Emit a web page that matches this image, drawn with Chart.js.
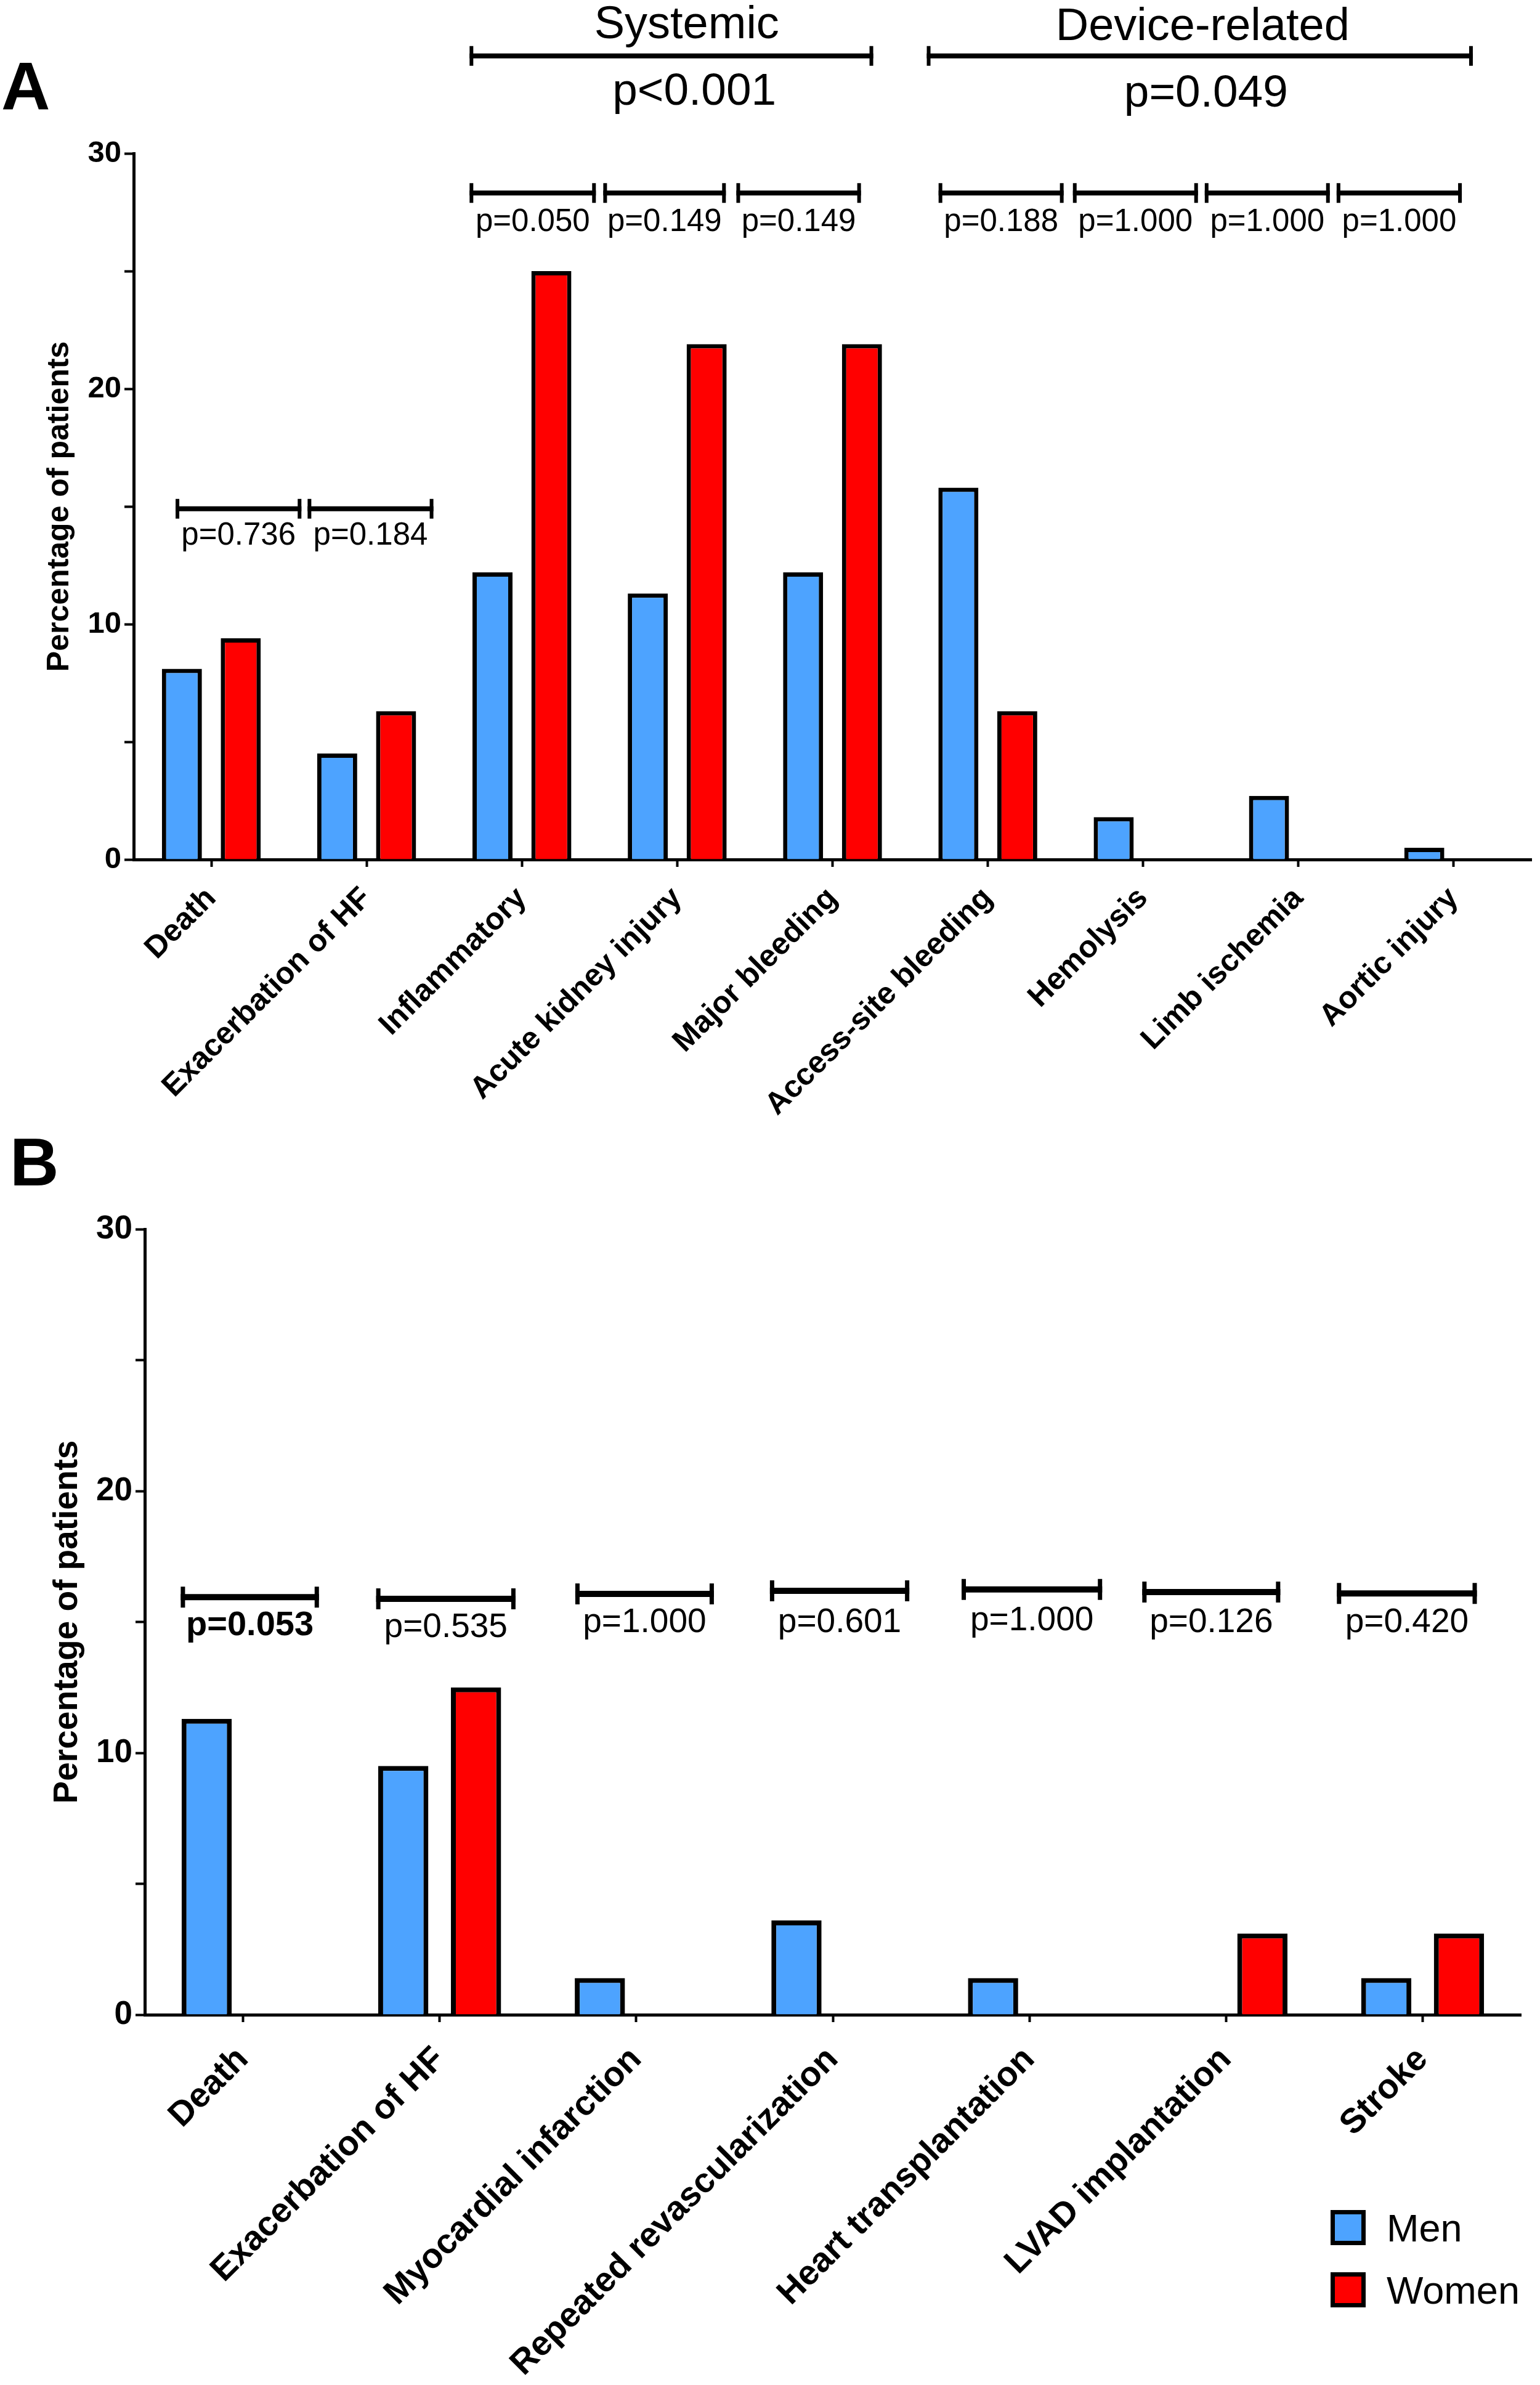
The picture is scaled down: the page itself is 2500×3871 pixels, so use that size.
<!DOCTYPE html>
<html>
<head>
<meta charset="utf-8">
<script src="https://cdn.jsdelivr.net/npm/chart.js@4.4.1/dist/chart.umd.min.js"></script>
<style>
  html, body { margin: 0; padding: 0; background: #fff; }
  #wrap { position: relative; width: 2500px; height: 3871px; }
  canvas { position: absolute; left: 0; }
  #chartA { top: 0; }
  #chartB { top: 1840px; }
</style>
</head>
<body>
<div id="wrap">
  <canvas id="chartA" width="2500" height="1840"></canvas>
  <canvas id="chartB" width="2500" height="2031"></canvas>
</div>
<script>
// ── Panel A: in-hospital complications ──
const labelsA = ['Death', 'Exacerbation of HF', 'Inflammatory', 'Acute kidney injury', 'Major bleeding',
  'Access-site bleeding', 'Hemolysis', 'Limb ischemia', 'Aortic injury'];
const menA = [8.1, 4.5, 12.2, 11.3, 12.2, 15.8, 1.8, 2.7, 0.5];
const womenA = [9.4, 6.3, 25.0, 21.9, 21.9, 6.3, 0, 0, 0];
const pairPA = ['p=0.736', 'p=0.184'];
const systemicP = ['p=0.050', 'p=0.149', 'p=0.149'];
const deviceP = ['p=0.188', 'p=1.000', 'p=1.000', 'p=1.000'];
const groupNames = ['Systemic', 'Device-related'];
const groupP = ['p<0.001', 'p=0.049'];

// ── Panel B: follow-up outcomes ──
const labelsB = ['Death', 'Exacerbation of HF', 'Myocardial infarction', 'Repeated revascularization',
  'Heart transplantation', 'LVAD implantation', 'Stroke'];
const menB = [11.3, 9.5, 1.4, 3.6, 1.4, 0, 1.4];
const womenB = [0, 12.5, 0, 0, 0, 3.1, 3.1];
const pB = ['p=0.053', 'p=0.535', 'p=1.000', 'p=0.601', 'p=1.000', 'p=0.126', 'p=0.420'];

const yLabelTicks = [0, 10, 20, 30];
const seriesNames = ['Men', 'Women'];
const seriesColors = ['#4da3ff', '#ff0000'];

const FONT = '"Liberation Sans", Arial, sans-serif';

// Bracket geometry (x in category units, y in axis units)
const segA = [
  { from: -0.23, to: 0.58, y: 14.9, textY: 13.38 },
  { from: 0.62, to: 1.43, y: 14.9, textY: 13.38 },
  { from: 1.663, to: 2.476, y: 28.32, textY: 26.7 },
  { from: 2.524, to: 3.313, y: 28.32, textY: 26.7 },
  { from: 3.381, to: 4.183, y: 28.32, textY: 26.7 },
  { from: 4.683, to: 5.488, y: 28.32, textY: 26.7 },
  { from: 5.548, to: 6.353, y: 28.32, textY: 26.7 },
  { from: 6.397, to: 7.202, y: 28.32, textY: 26.7 },
  { from: 7.246, to: 8.052, y: 28.32, textY: 26.7 }
];
const groupSegA = [
  { from: 1.663, to: 4.262, y: 34.14, nameX: 3.061, nameY: 34.9, pX: 3.11, pY: 32.07 },
  { from: 4.607, to: 8.123, y: 34.14, nameX: 6.383, nameY: 34.82, pX: 6.405, pY: 31.99 }
];
const segB = [
  { from: -0.317, to: 0.386, y: 15.95, textY: 14.49, bold: true },
  { from: 0.677, to: 1.386, y: 15.88, textY: 14.42 },
  { from: 1.69, to: 2.395, y: 16.07, textY: 14.61 },
  { from: 2.68, to: 3.389, y: 16.19, textY: 14.61 },
  { from: 3.655, to: 4.37, y: 16.24, textY: 14.68 },
  { from: 4.574, to: 5.276, y: 16.14, textY: 14.61 },
  { from: 5.564, to: 6.276, y: 16.09, textY: 14.61 }
];

// Draws one comparison bracket with end caps
function drawBracket(ctx, x0, x1, y, lw, capW, capH) {
  ctx.strokeStyle = '#000';
  ctx.lineCap = 'butt';
  ctx.lineWidth = lw;
  ctx.beginPath();
  ctx.moveTo(x0, y);
  ctx.lineTo(x1, y);
  ctx.stroke();
  ctx.lineWidth = capW;
  ctx.beginPath();
  ctx.moveTo(x0 + capW / 2, y - capH);
  ctx.lineTo(x0 + capW / 2, y + capH);
  ctx.moveTo(x1 - capW / 2, y - capH);
  ctx.lineTo(x1 - capW / 2, y + capH);
  ctx.stroke();
}

function text(ctx, str, x, y, size, bold, align) {
  ctx.fillStyle = '#000';
  ctx.font = (bold ? 'bold ' : '') + size + 'px ' + FONT;
  ctx.textAlign = align || 'center';
  ctx.textBaseline = 'alphabetic';
  ctx.fillText(str, x, y);
}

// Overlay: panel letter, brackets, p-values, legend
function makeOverlay(cfg) {
  return {
    id: 'overlay',
    afterDraw(chart) {
      const { ctx, scales: { x, y } } = chart;
      ctx.save();
      text(ctx, cfg.letter, cfg.letterX, cfg.letterY, 110, true, 'left');

      cfg.segs.forEach((s, i) => {
        const x0 = x.getPixelForValue(s.from);
        const x1 = x.getPixelForValue(s.to);
        drawBracket(ctx, x0, x1, y.getPixelForValue(s.y), cfg.lw, cfg.capW, cfg.capH);
        text(ctx, cfg.pTexts[i], (x0 + x1) / 2, y.getPixelForValue(s.textY), s.bold ? cfg.pSize + 1 : cfg.pSize, !!s.bold);
      });

      (cfg.groups || []).forEach((g, i) => {
        drawBracket(ctx, x.getPixelForValue(g.from), x.getPixelForValue(g.to), y.getPixelForValue(g.y), cfg.lw, cfg.capW, cfg.capH);
        text(ctx, groupNames[i], x.getPixelForValue(g.nameX), y.getPixelForValue(g.nameY), 74, false);
        text(ctx, groupP[i], x.getPixelForValue(g.pX), y.getPixelForValue(g.pY), 73, false);
      });

      if (cfg.legend) {
        const L = cfg.legend;
        chart.data.datasets.forEach((ds, i) => {
          const top = L.top + i * L.gap;
          ctx.fillStyle = '#000';
          ctx.fillRect(L.left, top, L.box, L.box);
          ctx.fillStyle = ds.backgroundColor;
          ctx.fillRect(L.left + 7, top + 7, L.box - 14, L.box - 14);
          text(ctx, ds.label, L.textX, top + L.box / 2 + 22, 63, false, 'left');
        });
      }
      ctx.restore();
    }
  };
}

function buildChart(id, labels, men, women, L) {
  return new Chart(document.getElementById(id), {
    type: 'bar',
    data: {
      labels: labels,
      datasets: [
        { label: seriesNames[0], data: men, backgroundColor: seriesColors[0], borderColor: '#000', borderWidth: L.barBorder },
        { label: seriesNames[1], data: women, backgroundColor: seriesColors[1], borderColor: '#000', borderWidth: L.barBorder }
      ]
    },
    options: {
      responsive: false,
      animation: false,
      devicePixelRatio: 1,
      layout: { padding: { top: L.top, right: L.right, left: 0, bottom: 0 } },
      datasets: { bar: { categoryPercentage: L.catPct, barPercentage: L.barPct } },
      plugins: { legend: { display: false }, tooltip: { enabled: false } },
      scales: {
        x: {
          offset: true,
          z: 1,
          grid: { offset: false, drawOnChartArea: false, color: '#000', tickLength: 12, tickWidth: 4 },
          border: { color: '#000', width: 5 },
          ticks: {
            color: '#000', autoSkip: false, minRotation: 45, maxRotation: 45, padding: L.xPad,
            font: { family: FONT, size: L.xFont, weight: 'bold' }
          },
          afterFit: s => { s.height = L.xHeight; }
        },
        y: {
          min: 0, max: 30,
          grid: { drawOnChartArea: false, color: '#000', tickLength: 15, tickWidth: 4 },
          border: { color: '#000', width: 5 },
          ticks: {
            stepSize: 5, padding: 5, color: '#000',
            font: { family: FONT, size: L.yFont, weight: 'bold' },
            callback: v => yLabelTicks.includes(v) ? v : ''
          },
          title: {
            display: true, text: 'Percentage of patients', color: '#000',
            font: { family: FONT, size: L.titleFont, weight: 'bold' },
            padding: { top: L.titlePad, bottom: 0 }
          },
          afterFit: s => { s.width = L.yWidth; }
        }
      }
    },
    plugins: [makeOverlay(L.overlay)]
  });
}

buildChart('chartA', labelsA, menA, womenA, {
  top: 249, right: 14, yWidth: 217, xHeight: 445,
  catPct: 0.758, barPct: 0.68, barBorder: 7,
  xFont: 50, xPad: 22, yFont: 49, titleFont: 50, titlePad: 67,
  overlay: {
    letter: 'A', letterX: 2, letterY: 177,
    segs: segA, pTexts: [...pairPA, ...systemicP, ...deviceP], pSize: 51,
    groups: groupSegA, lw: 8, capW: 6, capH: 16
  }
});

buildChart('chartB', labelsB, menB, womenB, {
  top: 155, right: 31, yWidth: 235, xHeight: 601,
  catPct: 0.74, barPct: 0.69, barBorder: 8,
  xFont: 56, xPad: 28, yFont: 53, titleFont: 55, titlePad: 77,
  overlay: {
    letter: 'B', letterX: 16, letterY: 84,
    segs: segB, pTexts: pB, pSize: 55,
    lw: 10, capW: 7, capH: 17,
    legend: { left: 2160, top: 1747, gap: 101, box: 57, textX: 2251 }
  }
});
</script>
</body>
</html>
